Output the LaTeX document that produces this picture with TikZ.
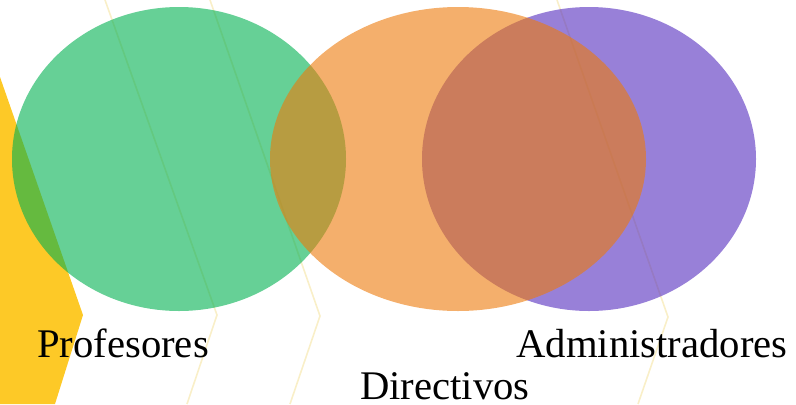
\documentclass[tikz,border=0pt]{standalone}
\usepackage{fontspec}
\setmainfont{Liberation Serif}
\usetikzlibrary{positioning, shapes.geometric}
\definecolor{setgreen}{RGB}{0,176,80}
\definecolor{setorange}{RGB}{237,122,10}
\definecolor{setpurple}{RGB}{84,44,190}
\definecolor{bandyellow}{RGB}{253,201,39}
\definecolor{lineyellow}{RGB}{249,239,200}
\begin{document}
\begin{tikzpicture}[x=0.75pt, y=-0.75pt,
            set/.style={ellipse, inner sep=0pt, minimum height=228pt, fill opacity=0.6},
            label/.style={anchor=base, inner sep=0pt, font=\fontsize{30.5}{36}\selectfont},
            chevron/.style={draw=lineyellow, line width=1.2pt}]
    \useasboundingbox (0,0) rectangle (796,404);
    % Background
    \fill[bandyellow] (0,77) -- (83,315) -- (55,404) -- (0,404) -- cycle;
    \draw[chevron] (105,0) -- (217,315) -- (187,404);
    \draw[chevron] (210,0) -- (320,316) -- (290,404);
    \draw[chevron] (557,0) -- (668,317) -- (638,404);

    % Sets
    \node[set, fill=setgreen, minimum width=250.5pt] (profesores) at (179,159) {};
    \node[set, fill=setpurple, minimum width=250.5pt] (administradores) at (589,159) {};
    \node[set, fill=setorange, minimum width=282pt] (directivos) at (458,159) {};

    % Labels
    \node[label] (profesores-label) at (123,357) {Profesores};
    \node[label] (administradores-label) at (652,357) {Administradores};
    \node[label] (directivos-label) at (445,399) {Directivos};
\end{tikzpicture}
\end{document}
